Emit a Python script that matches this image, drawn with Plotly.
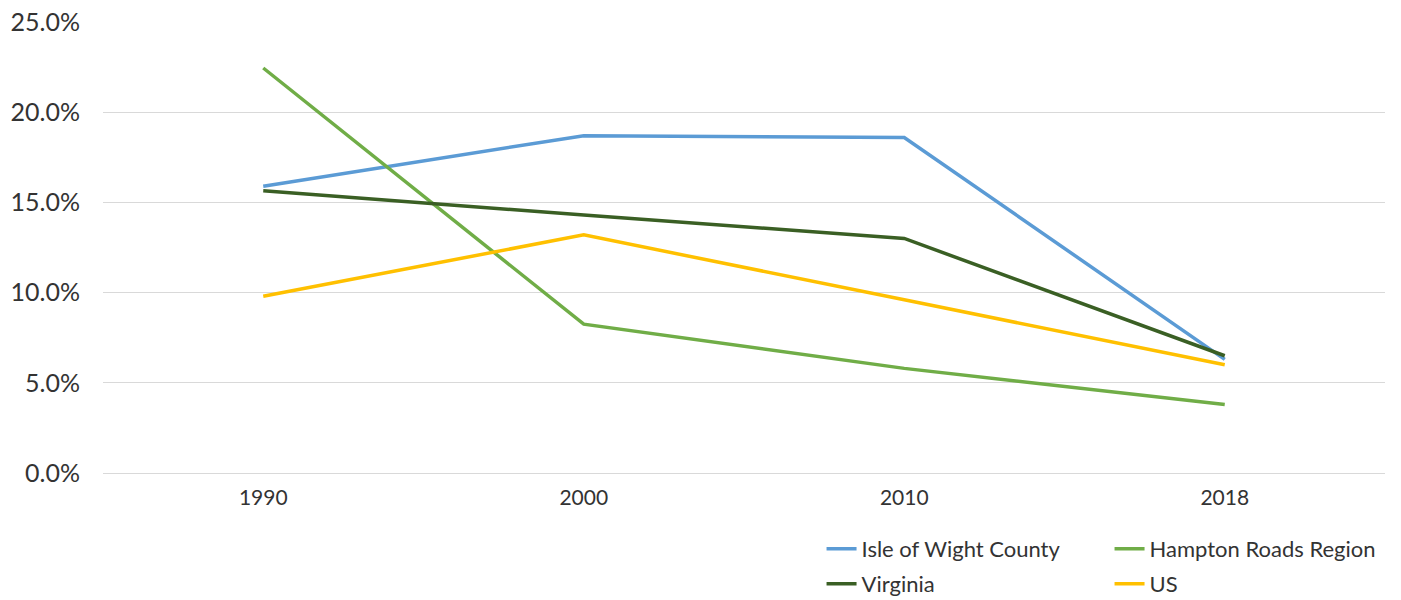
import plotly.graph_objects as go

years = ["1990", "2000", "2010", "2018"]
isle_of_wight = [15.9, 18.7, 18.6, 6.3]
hampton_roads = [22.45, 8.25, 5.8, 3.8]
virginia = [15.65, 14.3, 13.0, 6.5]
us = [9.8, 13.2, 9.6, 6.0]

series = [
    ("Isle of Wight County", isle_of_wight, "#5B9BD5", "legend"),
    ("Hampton Roads Region", hampton_roads, "#70AD47", "legend"),
    ("Virginia", virginia, "#3A5F24", "legend2"),
    ("US", us, "#FFC000", "legend2"),
]

fig = go.Figure()
for name, vals, color, lg in series:
    fig.add_trace(go.Scatter(
        x=years, y=[v / 100 for v in vals], name=name, mode="lines",
        line=dict(color=color, width=3.5), legend=lg,
    ))

legend_common = dict(
    orientation="h", xref="container", yref="container",
    x=0.5864, xanchor="left", yanchor="middle",
    font=dict(size=22, color="#333333", family="Lato, sans-serif"),
    entrywidth=243, entrywidthmode="pixels", itemwidth=30,
    bgcolor="rgba(0,0,0,0)",
)

fig.update_layout(
    width=1401, height=600,
    margin=dict(l=103, r=16, t=22, b=127),
    paper_bgcolor="white", plot_bgcolor="white",
    font=dict(family="Lato, 'Open Sans', sans-serif", size=19, color="#333333"),
    xaxis=dict(type="category", showgrid=False, showline=False, ticks="",
               tickfont=dict(size=21), range=[-0.5, 3.5], ticklabelstandoff=10,
               automargin=False),
    yaxis=dict(range=[0, 0.25], dtick=0.05, tickformat=".1%",
               tickfont=dict(size=25), automargin=False,
               showgrid=True, gridcolor="#d9d9d9", gridwidth=1,
               zeroline=True, zerolinecolor="#d9d9d9", zerolinewidth=1,
               showline=False, ticks="", ticklabelstandoff=22),
    legend=dict(legend_common, y=1 - 549 / 600),
    legend2=dict(legend_common, y=1 - 584 / 600),
    showlegend=True,
)

fig.write_html("out.html")
